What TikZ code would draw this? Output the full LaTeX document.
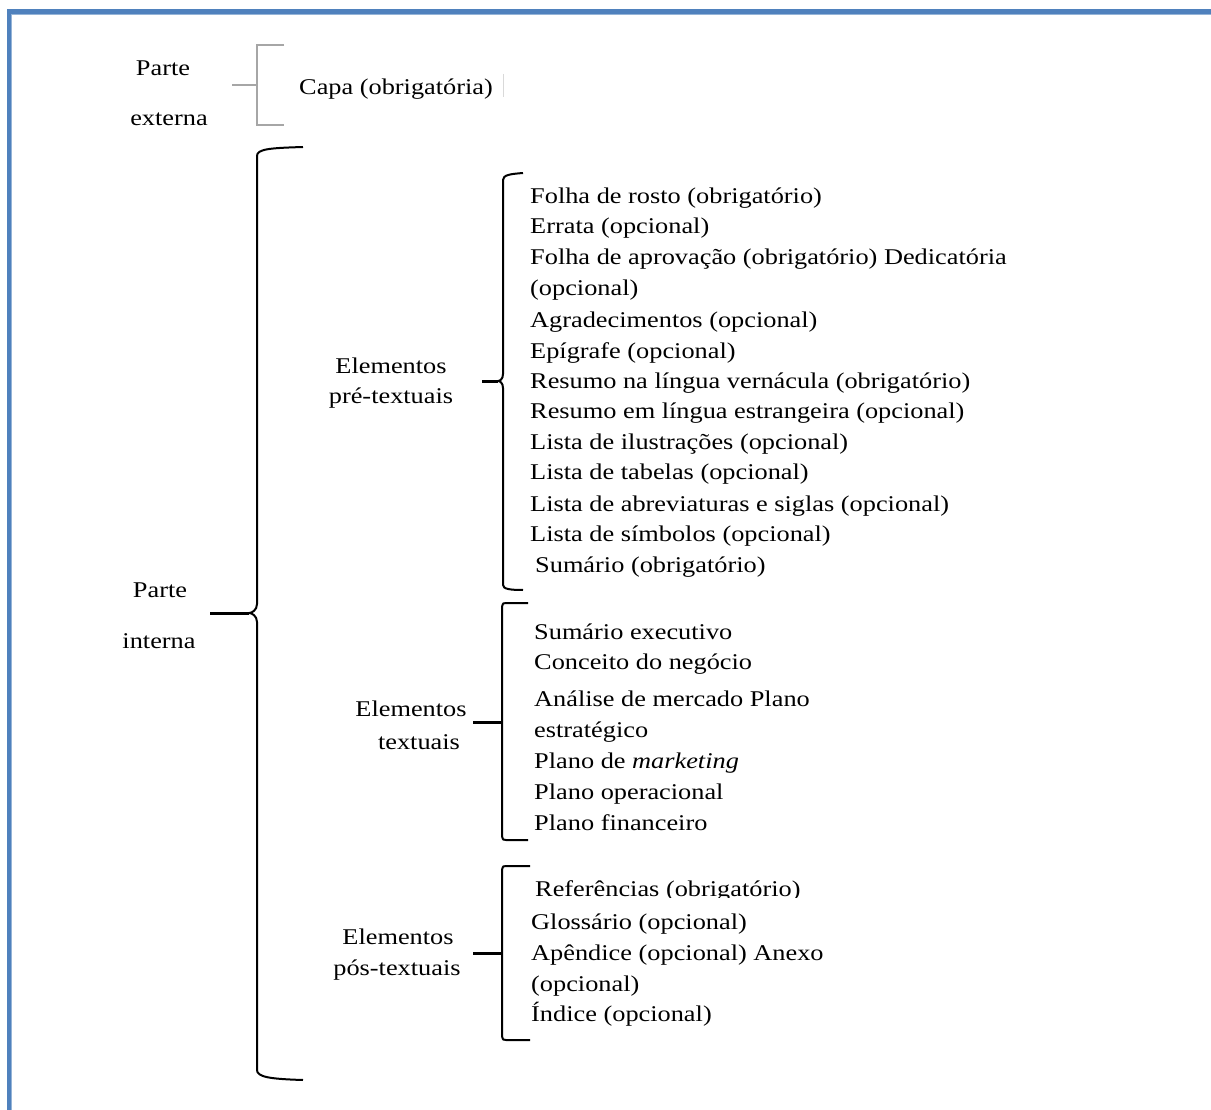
\documentclass[tikz,border=0pt]{standalone}
\usepackage{fontspec}
\setmainfont{Liberation Serif}[FakeStretch=1.17]
\definecolor{frameblue}{HTML}{4F81BD}
\definecolor{bracegray}{HTML}{A6A6A6}
\begin{document}
\begin{tikzpicture}[x=1pt,y=-1pt,
  txt/.style={inner sep=0pt,font=\fontsize{22.5}{28}\selectfont,anchor=base west},
  lbl/.style={inner sep=0pt,font=\fontsize{22.5}{28}\selectfont,anchor=base},
  bracel/.style={line width=2pt,black},
  tickl/.style={line width=3pt,black}]
\useasboundingbox (0,0) rectangle (1211,1110);
\fill[white] (0,0) rectangle (1211,1110);
% frame
\draw[frameblue,line width=5pt] (9,1112) -- (9,12) -- (1213,12);
\draw[frameblue!60,line width=1pt] (11.5,1112) -- (11.5,14.5) -- (1213,14.5);

% Parte externa
\node[lbl] (pe1) at (163,76) {Parte};
\node[lbl] (pe2) at (169,126) {externa};
\node[txt] (capa) at (299,95) {Capa (obrigatória)};
\coordinate (bx0) at (257,85);
\draw[bracegray,line width=1.5pt] (284,45) -- (257,45) -- (257,125) -- (284,125);
\draw[bracegray,line width=1.5pt] (232,85) -- (bx0);
\draw[black!15,line width=1pt] (503,74) -- (503,97);

% Parte interna
\node[lbl] (pi1) at (160,597) {Parte};
\node[lbl] (pi2) at (159,648) {interna};
\coordinate (b1) at (249,613);
\draw[bracel] (303,147) .. controls (270,148) and (257,149) .. (257,156) -- (257,604)
  .. controls (257,610) and (252,613) .. (b1) .. controls (252,613) and (257,616) .. (257,622)
  -- (257,1070) .. controls (257,1077) and (270,1079) .. (303,1080);
\draw[tickl] (210,613) -- (b1);

% pre-textuais
\node[lbl] (e1a) at (391,373) {Elementos};
\node[lbl] (e1b) at (391,403) {pré-textuais};
\coordinate (b2) at (498,381);
\draw[bracel] (523,173) .. controls (510,174) and (503,175) .. (503,180) -- (503,374)
  .. controls (503,379) and (500,381) .. (b2) .. controls (500,381) and (503,383) .. (503,388)
  -- (503,585) .. controls (503,589) and (510,590) .. (523,590);
\draw[tickl] (482,381) -- (b2);
\node[txt] (p1) at (530,204) {Folha de rosto (obrigatório)};
\node[txt] (p2) at (530,234) {Errata (opcional)};
\node[txt] (p3) at (530,265) {Folha de aprovação (obrigatório) Dedicatória};
\node[txt] (p4) at (530,296) {(opcional)};
\node[txt] (p5) at (530,327) {Agradecimentos (opcional)};
\node[txt] (p6) at (530,358) {Epígrafe (opcional)};
\node[txt] (p7) at (530,388) {Resumo na língua vernácula (obrigatório)};
\node[txt] (p8) at (530,418) {Resumo em língua estrangeira (opcional)};
\node[txt] (p9) at (530,449) {Lista de ilustrações (opcional)};
\node[txt] (p10) at (530,479) {Lista de tabelas (opcional)};
\node[txt] (p11) at (530,511) {Lista de abreviaturas e siglas (opcional)};
\node[txt] (p12) at (530,541) {Lista de símbolos (opcional)};
\node[txt] (p13) at (535,572) {Sumário (obrigatório)};

% textuais
\node[lbl] (e2a) at (411,716) {Elementos};
\node[lbl] (e2b) at (419,749) {textuais};
\coordinate (b3) at (502,722);
\draw[bracel] (528,603) -- (506,603) .. controls (503,603) .. (502,607) -- (502,836)
  .. controls (503,840) .. (506,840) -- (528,840);
\draw[tickl] (473,722) -- (b3);
\node[txt] (t1) at (534,639) {Sumário executivo};
\node[txt] (t2) at (534,669) {Conceito do negócio};
\node[txt] (t3) at (534,706) {Análise de mercado Plano};
\node[txt] (t4) at (534,737) {estratégico};
\node[txt] (t5) at (534,768) {Plano de \textit{marketing}};
\node[txt] (t6) at (534,799) {Plano operacional};
\node[txt] (t7) at (534,830) {Plano financeiro};

% pos-textuais
\node[lbl] (e3a) at (398,944) {Elementos};
\node[lbl] (e3b) at (397,975) {pós-textuais};
\coordinate (b4) at (502,953);
\draw[bracel] (530,866) -- (506,866) .. controls (503,866) .. (502,870) -- (502,1036)
  .. controls (503,1040) .. (506,1040) -- (530,1040);
\draw[tickl] (473,953) -- (b4);
\begin{scope}
\clip (520,860) rectangle (900,897);
\node[txt] (r1) at (535,896) {Referências (obrigatório)};
\end{scope}
\node[txt] (r2) at (531,929) {Glossário (opcional)};
\node[txt] (r3) at (531,960) {Apêndice (opcional) Anexo};
\node[txt] (r4) at (531,991) {(opcional)};
\node[txt] (r5) at (531,1021) {Índice (opcional)};
\end{tikzpicture}
\end{document}
